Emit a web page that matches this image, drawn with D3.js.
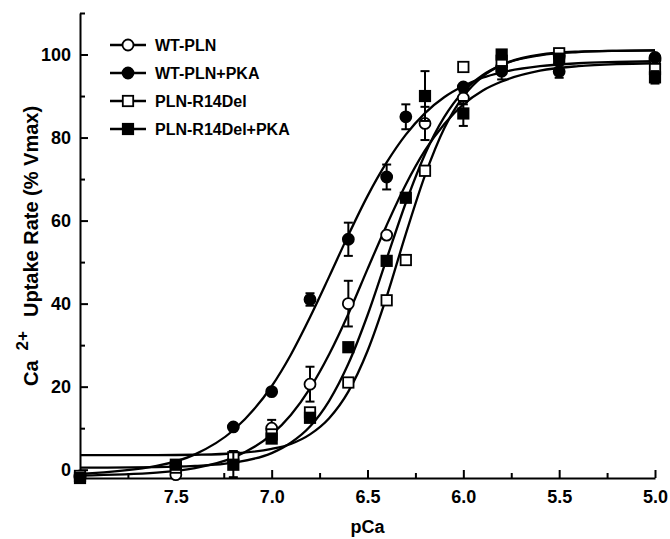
<!DOCTYPE html>
<html>
<head>
<meta charset="utf-8">
<script src="https://cdn.jsdelivr.net/npm/d3@7"></script>
<style>
  body { margin: 0; background: #fff; }
  svg { display: block; font-family: "Liberation Sans", Arial, sans-serif; font-weight: bold; }
  .axis path, .axis line { stroke: #000; stroke-width: 2; }
  .axis text { font-size: 18px; font-weight: bold; fill: #000; }
</style>
</head>
<body>
<div id="chart"></div>
<script>
// measured points (pCa, % Vmax, error)
var wtPln = [
  [8.0, -1.5, 0.5], [7.5, -1.2, 1], [7.0, 10, 2], [6.8, 20.6, 4.2], [6.6, 40, 5.5],
  [6.4, 56.5, 1], [6.2, 83.4, 4], [6.0, 89.5, 1.5], [5.8, 97, 1], [5.5, 99.7, 1], [5.0, 98.7, 1]
];
var wtPlnPka = [
  [8.0, -1.8, 0.5], [7.5, 1, 1], [7.2, 10.3, 0.5], [7.0, 18.8, 1], [6.8, 41, 1.5], [6.6, 55.5, 4],
  [6.4, 70.5, 3], [6.3, 85, 3], [6.0, 92.2, 1], [5.8, 96, 2], [5.5, 95.9, 1.5], [5.0, 99.3, 1]
];
var r14Del = [
  [8.0, -1.5, 0.5], [7.5, 0.5, 1], [7.2, 3, 1.5], [7.0, 8.5, 1], [6.8, 13.8, 1], [6.6, 21, 1],
  [6.4, 40.8, 1], [6.3, 50.5, 1], [6.2, 72, 1], [6.0, 97, 1], [5.8, 98.5, 1], [5.5, 100.3, 1], [5.0, 96.5, 1]
];
var r14DelPka = [
  [8.0, -2, 0.5], [7.5, 1.2, 1], [7.2, 1.2, 3], [7.0, 7.5, 1], [6.8, 12.5, 1], [6.6, 29.5, 1],
  [6.4, 50.3, 1], [6.3, 65.5, 1], [6.2, 90, 6], [6.0, 85.8, 3], [5.8, 100, 1], [5.5, 99, 1], [5.0, 94.5, 1.5]
];

// fitted curves
var curvePca = [8.0, 7.6, 7.4, 7.2, 7.0, 6.9, 6.8, 6.7, 6.6, 6.5, 6.4, 6.3, 6.2, 6.1, 6.0, 5.9, 5.8, 5.6, 5.4, 5.2, 5.0];
var fitWtPka   = [-1.0, 0.9, 3.7, 9.5, 20.1, 27.7, 36.7, 46.5, 56.5, 65.9, 74.0, 80.7, 85.9, 89.7, 92.4, 94.4, 95.7, 97.2, 97.9, 98.2, 98.4];
var fitWt      = [-1.4, -0.7, 0.4, 2.9, 8.5, 13.2, 19.6, 27.8, 37.5, 48.3, 58.9, 68.7, 76.9, 83.2, 88.0, 91.3, 93.5, 96.1, 97.2, 97.7, 97.9];
var fitR14Pka  = [0.5, 0.6, 0.9, 1.7, 4.0, 6.5, 10.4, 16.6, 25.5, 37.2, 50.8, 64.3, 76.0, 84.9, 91.1, 95.0, 97.5, 99.8, 100.6, 100.9, 101.0];
var fitR14     = [3.5, 3.5, 3.6, 3.9, 5.0, 6.2, 8.5, 12.4, 18.8, 28.6, 41.7, 56.8, 70.9, 82.2, 89.9, 94.7, 97.5, 100.0, 100.7, 100.9, 101.0];

var xMajor = [7.5, 7.0, 6.5, 6.0, 5.5, 5.0];
var xMinor = [7.75, 7.25, 6.75, 6.25, 5.75, 5.25];
var yMajor = [0, 20, 40, 60, 80, 100];
var yMinor = [10, 30, 50, 70, 90, 110];

var series = [
  {name: "WT-PLN", data: wtPln, shape: "circle", fill: "#fff"},
  {name: "WT-PLN+PKA", data: wtPlnPka, shape: "circle", fill: "#000"},
  {name: "PLN-R14Del", data: r14Del, shape: "square", fill: "#fff"},
  {name: "PLN-R14Del+PKA", data: r14DelPka, shape: "square", fill: "#000"}
];

var width = 670, height = 539;

var svg = d3.select("#chart").append("svg")
    .attr("width", width)
    .attr("height", height);

var x = d3.scaleLinear().domain([8.0, 5.0]).range([80, 655]);
var y = d3.scaleLinear().domain([-2, 110]).range([478, 13]);

// axes, ticks inside
svg.append("g").attr("class", "axis")
    .attr("transform", "translate(0," + y(-2) + ")")
    .call(d3.axisBottom(x).tickValues(xMajor).tickSizeInner(-8).tickSizeOuter(0)
      .tickPadding(12).tickFormat(d3.format(".1f")));
svg.append("g").attr("class", "axis")
    .attr("transform", "translate(0," + y(-2) + ")")
    .call(d3.axisBottom(x).tickValues(xMinor).tickSizeInner(-5).tickSizeOuter(0).tickFormat(""))
    .select(".domain").remove();

svg.append("g").attr("class", "axis")
    .attr("transform", "translate(" + x(8.0) + ",0)")
    .call(d3.axisLeft(y).tickValues(yMajor).tickSizeInner(-8).tickSizeOuter(0).tickPadding(9));
svg.append("g").attr("class", "axis")
    .attr("transform", "translate(" + x(8.0) + ",0)")
    .call(d3.axisLeft(y).tickValues(yMinor).tickSizeInner(-5).tickSizeOuter(0).tickFormat(""))
    .select(".domain").remove();

// axis titles
svg.append("text")
    .attr("x", x(6.5))
    .attr("y", 533)
    .attr("text-anchor", "middle")
    .style("font-size", "18px")
    .text("pCa");

var ylab = svg.append("text")
    .attr("transform", "translate(38,386) rotate(-90)")
    .style("font-size", "20px");
ylab.append("tspan").text("Ca");
ylab.append("tspan").attr("dx", 10).attr("dy", -10).style("font-size", "17px").text("2+");
ylab.append("tspan").attr("dx", 14).attr("dy", 10).text("Uptake Rate (% Vmax)");

// fitted curves
var line = d3.line()
    .x(function(d) { return x(d[0]); })
    .y(function(d) { return y(d[1]); })
    .curve(d3.curveMonotoneX);

[fitWtPka, fitWt, fitR14Pka, fitR14].forEach(function(vals) {
  svg.append("path")
      .datum(curvePca.map(function(p, i) { return [p, vals[i]]; }))
      .attr("fill", "none")
      .attr("stroke", "#000")
      .attr("stroke-width", 2.3)
      .attr("d", line);
});

function drawMarker(g, shape, fill, cx, cy) {
  if (shape == "circle") {
    g.append("circle").attr("cx", cx).attr("cy", cy).attr("r", 5.5)
      .attr("fill", fill).attr("stroke", "#000").attr("stroke-width", 1.8);
  } else {
    g.append("rect").attr("x", cx - 5.2).attr("y", cy - 5.2).attr("width", 10.4).attr("height", 10.4)
      .attr("fill", fill).attr("stroke", "#000").attr("stroke-width", 1.8);
  }
}

// error bars + markers
series.forEach(function(s) {
  var g = svg.append("g");
  s.data.forEach(function(d) {
    var cx = x(d[0]);
    var top = y(d[1] + d[2]), bot = y(d[1] - d[2]);
    if (bot - top > 10) {
      g.append("line").attr("x1", cx).attr("x2", cx).attr("y1", top).attr("y2", bot)
        .attr("stroke", "#000").attr("stroke-width", 2);
      [top, bot].forEach(function(v) {
        g.append("line").attr("x1", cx - 4.5).attr("x2", cx + 4.5).attr("y1", v).attr("y2", v)
          .attr("stroke", "#000").attr("stroke-width", 2);
      });
    }
    drawMarker(g, s.shape, s.fill, cx, y(d[1]));
  });
});

// legend
var legend = svg.append("g");
series.forEach(function(s, i) {
  var ly = 45 + i * 28;
  legend.append("line").attr("x1", 110).attr("x2", 146).attr("y1", ly).attr("y2", ly)
    .attr("stroke", "#000").attr("stroke-width", 2.3);
  drawMarker(legend, s.shape, s.fill, 128, ly);
  legend.append("text").attr("x", 155).attr("y", ly).attr("dy", "0.36em")
    .style("font-size", "16px").text(s.name);
});
</script>
</body>
</html>
